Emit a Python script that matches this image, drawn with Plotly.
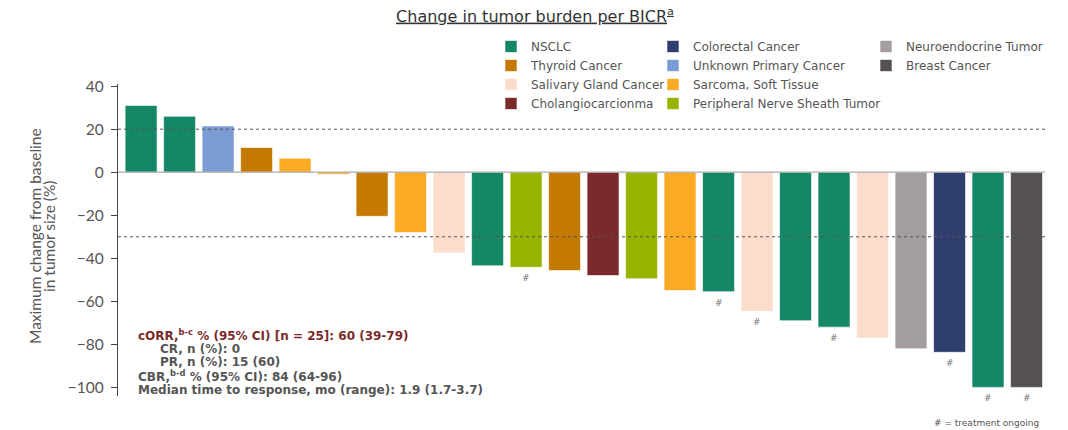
import plotly.graph_objects as go

# Waterfall data: best change from baseline per patient, sorted high to low
tumor_types = [
    "NSCLC", "NSCLC", "Unknown Primary Cancer", "Thyroid Cancer", "Sarcoma, Soft Tissue",
    "Sarcoma, Soft Tissue", "Thyroid Cancer", "Sarcoma, Soft Tissue", "Salivary Gland Cancer",
    "NSCLC", "Peripheral Nerve Sheath Tumor", "Thyroid Cancer", "Cholangiocarcionma",
    "Peripheral Nerve Sheath Tumor", "Sarcoma, Soft Tissue", "NSCLC", "Salivary Gland Cancer",
    "NSCLC", "NSCLC", "Salivary Gland Cancer", "Neuroendocrine Tumor", "Colorectal Cancer",
    "NSCLC", "Breast Cancer",
]
max_change = [
    31, 26, 21.5, 11.5, 6.5, -1, -20.5, -28, -37.5, -43.5, -44.2, -45.7,
    -48, -49.5, -55, -55.5, -64.6, -69, -72, -77, -82, -83.7, -100, -100,
]
ongoing = [
    False, False, False, False, False, False, False, False, False, False, True, False,
    False, False, False, True, True, False, True, False, False, True, True, True,
]

# Legend columns (each column is its own legend)
legend_columns = [
    ["NSCLC", "Thyroid Cancer", "Salivary Gland Cancer", "Cholangiocarcionma"],
    ["Colorectal Cancer", "Unknown Primary Cancer", "Sarcoma, Soft Tissue",
     "Peripheral Nerve Sheath Tumor"],
    ["Neuroendocrine Tumor", "Breast Cancer"],
]
type_colors = {
    "NSCLC": "#148766",
    "Thyroid Cancer": "#C47A00",
    "Salivary Gland Cancer": "#FCDCCB",
    "Cholangiocarcionma": "#7A2A2A",
    "Colorectal Cancer": "#2F3E6E",
    "Unknown Primary Cancer": "#7B9BD4",
    "Sarcoma, Soft Tissue": "#FBAA25",
    "Peripheral Nerve Sheath Tumor": "#98B400",
    "Neuroendocrine Tumor": "#A39E9D",
    "Breast Cancer": "#555150",
}

y_ticks = [40, 20, 0, -20, -40, -60, -80, -100]
ref_lines = [20, -30]

y_title_lines = ["Maximum change from baseline", "in tumor size (%)"]

stats_lines = [
    "cORR,<sup>b-c</sup> % (95% CI) [n = 25]: 60 (39-79)",
    "CR, n (%): 0",
    "PR, n (%): 15 (60)",
    "CBR,<sup>b-d</sup> % (95% CI): 84 (64-96)",
    "Median time to response, mo (range): 1.9 (1.7-3.7)",
]

W, H = 1068, 430
M_L, M_R, M_T, M_B = 118, 23, 84, 34
PLOT_H = H - M_T - M_B
PLOT_W = W - M_L - M_R


def py(pix):
    """Convert a page pixel row into paper y."""
    return (H - M_B - pix) / PLOT_H


def px(pix):
    """Convert a page pixel column into paper x."""
    return (pix - M_L) / PLOT_W


TEXT = "DejaVu Sans"
fig = go.Figure()

legend_names = ["legend", "legend2", "legend3"]
for col, names in enumerate(legend_columns):
    for name in names:
        xs = [i for i, t in enumerate(tumor_types) if t == name]
        ys = [max_change[i] for i in xs]
        fig.add_trace(go.Bar(
            x=xs, y=ys, name=name, width=0.83,
            marker=dict(color=type_colors[name], line=dict(width=0.6, color="white")),
            legend=legend_names[col],
        ))

# "#" marks under bars for patients still on treatment
for i, (v, flag) in enumerate(zip(max_change, ongoing)):
    if flag:
        fig.add_annotation(x=i, y=v, text="#", showarrow=False, yanchor="top",
                           yshift=-4, font=dict(family=TEXT, size=9, color="#777"))

# Reference lines at +20% and -30%, and the baseline
for val in ref_lines:
    fig.add_shape(type="line", xref="paper", x0=0, x1=1, y0=val, y1=val,
                  line=dict(color="#555", width=1, dash="dot"), layer="above")
fig.add_shape(type="line", xref="paper", x0=0, x1=1, y0=0, y1=0,
              line=dict(color="#aaa", width=1.2), layer="above")

# Two-line rotated y-axis title
for line, xp in zip(y_title_lines, [35, 49]):
    fig.add_annotation(xref="paper", yref="paper", x=px(xp), y=py(236), text=line,
                       textangle=-90, showarrow=False, xanchor="center", yanchor="middle",
                       font=dict(family="Lato", size=15.5, color="#555"))

# Response summary block
stats_pos = [(136, 334.5), (158, 348.5), (158, 362), (136, 375.5), (136, 390)]
for k, (line, (xp, yp)) in enumerate(zip(stats_lines, stats_pos)):
    fig.add_annotation(xref="paper", yref="paper", x=px(xp), y=py(yp), text=line,
                       showarrow=False, xanchor="left", yanchor="middle",
                       font=dict(family=TEXT, size=12, weight="bold",
                                 color="#7A2A2A" if k == 0 else "#555"))

fig.add_annotation(xref="paper", yref="paper", x=px(1041), y=py(423),
                   text="# = treatment ongoing", showarrow=False,
                   xanchor="right", yanchor="middle",
                   font=dict(family=TEXT, size=9, color="#555"))

fig.update_layout(
    width=W, height=H,
    margin=dict(l=M_L, r=M_R, t=M_T, b=M_B),
    paper_bgcolor="white", plot_bgcolor="white",
    barmode="overlay",
    title=dict(text="<u>Change in tumor burden per BICR<sup>a</sup></u>",
               xref="paper", x=px(535), xanchor="center",
               yref="container", y=1 - 16 / H, yanchor="middle",
               font=dict(family=TEXT, size=16, color="#333")),
    xaxis=dict(range=[-0.6, 23.48], visible=False),
    yaxis=dict(range=[-104, 41], tickvals=y_ticks, zeroline=False, showgrid=False,
               showline=True, linecolor="#444", linewidth=1.2,
               ticks="outside", ticklen=6, tickcolor="#444", ticklabelstandoff=4,
               tickfont=dict(family="Lato", size=15.5, color="#555")),
    font=dict(family=TEXT, color="#555"),
)

legend_x = [491, 653, 866]
for name, xp in zip(legend_names, legend_x):
    fig.update_layout({name: dict(
        x=px(xp), y=py(32), xanchor="left", yanchor="top", orientation="v",
        bgcolor="rgba(0,0,0,0)", font=dict(family=TEXT, size=12, color="#555"),
        tracegroupgap=0, itemclick=False, itemdoubleclick=False,
    )})

fig.write_html("out.html")
